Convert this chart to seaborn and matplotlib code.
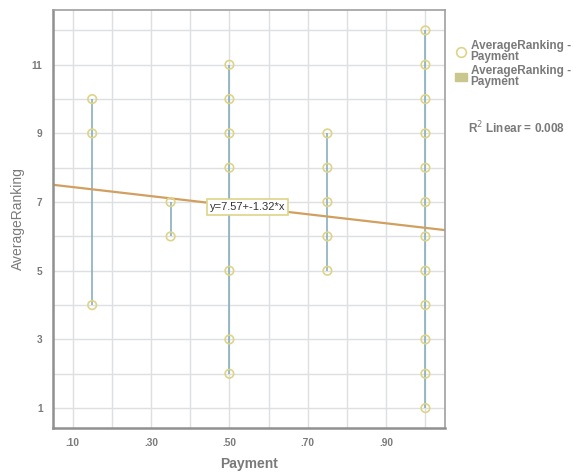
import numpy as np
import pandas as pd
import matplotlib
matplotlib.use("Agg")
import matplotlib.pyplot as plt
from matplotlib.lines import Line2D
from matplotlib.patches import Patch
import seaborn as sns

# -------------------------
# data
# -------------------------
payment_levels = [0.15, 0.35, 0.50, 0.75, 1.00]
ranking_at_015 = [4, 9, 10]
ranking_at_035 = [6, 7]
ranking_at_050 = [2, 3, 5, 8, 9, 10, 11]
ranking_at_075 = [5, 6, 7, 8, 9]
ranking_at_100 = [1, 2, 3, 4, 5, 6, 7, 8, 9, 10, 11, 12]

fit_intercept = 7.57
fit_slope = -1.32
r2_linear = 0.008

groups = [ranking_at_015, ranking_at_035, ranking_at_050, ranking_at_075, ranking_at_100]
df = pd.DataFrame({
    "Payment": np.concatenate([[p] * len(g) for p, g in zip(payment_levels, groups)]),
    "AverageRanking": np.concatenate(groups),
})

sns.set_style("white")
plt.rcParams['font.family'] = ['Liberation Sans', 'DejaVu Sans']

fig = plt.figure(figsize=(5.74, 4.72), dpi=100)
ax = fig.add_axes([0.0923, 0.0932, 0.683, 0.886])

grey_txt = "#7a7a7a"
pt_col = "#ddd488"
drop_col = "#7ea9b8"
fit_col = "#d1a060"

# drop lines from min to max at each payment level
span = df.groupby("Payment")["AverageRanking"].agg(["min", "max"]).reset_index()
ax.vlines(span["Payment"], span["min"], span["max"], color=drop_col, lw=1.1, zorder=2)

sns.scatterplot(data=df, x="Payment", y="AverageRanking", ax=ax,
                marker="o", s=38, facecolor="none", edgecolor=pt_col,
                linewidth=1.2, zorder=3, legend=False)

xlim = (0.05, 1.05)
xs = np.array(xlim)
ax.plot(xs, fit_intercept + fit_slope * xs, color=fit_col, lw=1.6, zorder=2.5)

ax.set_xlim(*xlim)
ax.set_ylim(0.42, 12.6)
ax.set_xticks([0.1, 0.3, 0.5, 0.7, 0.9])
ax.set_xticklabels([".10", ".30", ".50", ".70", ".90"])
ax.set_xticks(np.arange(0.1, 1.05, 0.1), minor=True)
ax.set_yticks([1, 3, 5, 7, 9, 11])
ax.set_yticks(range(1, 13), minor=True)
ax.grid(True, which="both", color="#dde0e3", lw=1.0, zorder=0)
ax.set_axisbelow(True)

ax.tick_params(axis="both", which="major", labelsize=7.3, colors=grey_txt,
               length=4, width=1.2, direction="out")
ax.tick_params(axis="both", which="minor", length=0)
for lab in ax.get_xticklabels() + ax.get_yticklabels():
    lab.set_fontweight("bold")

for side in ["left", "bottom"]:
    ax.spines[side].set_color("#909090")
    ax.spines[side].set_linewidth(1.8)
for side in ["top", "right"]:
    ax.spines[side].set_color("#a0a0a0")
    ax.spines[side].set_linewidth(1.2)

ax.set_xlabel("Payment", fontsize=10, color=grey_txt, fontweight="bold", labelpad=6)
ax.set_ylabel("AverageRanking", fontsize=10, color=grey_txt, labelpad=5)

ax.text(0.547, 6.86, f"y={fit_intercept}+{fit_slope}*x", fontsize=8, ha="center", va="center",
        color="#333333", zorder=5,
        bbox=dict(boxstyle="square,pad=0.25", fc="white", ec=pt_col, lw=1.2))

handles = [
    Line2D([], [], marker="o", ls="", markerfacecolor="white", markeredgecolor=pt_col,
           markersize=7, markeredgewidth=1.2),
    Patch(facecolor="#c9c68e", edgecolor="#c9c68e"),
]
leg = fig.legend(handles, ["AverageRanking -\nPayment", "AverageRanking -\nPayment"],
                 loc="upper left", bbox_to_anchor=(0.785, 0.925), frameon=False,
                 fontsize=8.5, handlelength=1.0, handletextpad=0.3, labelspacing=0.15,
                 borderaxespad=0)
for t in leg.get_texts():
    t.set_color(grey_txt)
    t.set_fontweight("bold")
    t.set_linespacing(0.9)

fig.text(0.815, 0.729, "R$^2$ Linear = " + f"{r2_linear:.3f}", fontsize=8.5, color=grey_txt,
         fontweight="bold", ha="left", va="center")

fig.savefig("out.png", dpi=100)
